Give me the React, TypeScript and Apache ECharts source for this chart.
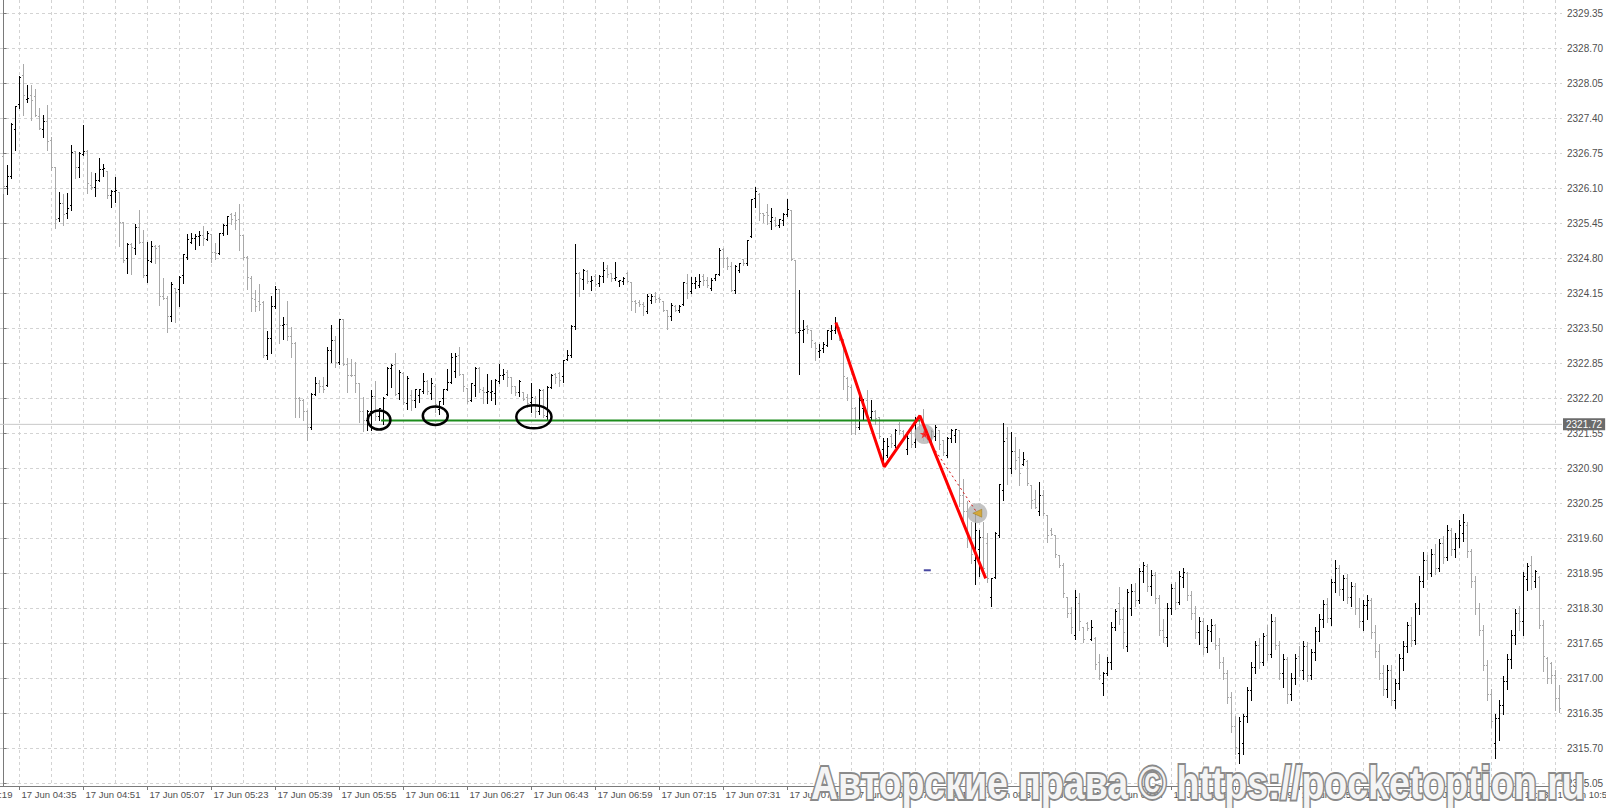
import { useEffect, useRef } from "react";
import * as echarts from "echarts";

// One-minute OHLC bars, [open, high, low, close], oldest first (bar 4 = 17 Jun 04:35)
const bars: number[][] = [
  [2326.70, 2326.75, 2326.02, 2326.13], [2326.13, 2326.53, 2325.99, 2326.33], [2326.33, 2327.32, 2326.30, 2327.28], [2327.20, 2327.63, 2326.81, 2327.62], [2327.66, 2328.19, 2327.60, 2328.17],
  [2328.20, 2328.41, 2327.46, 2327.83], [2327.76, 2328.02, 2327.71, 2327.78], [2327.83, 2328.03, 2327.38, 2327.73], [2327.80, 2327.94, 2327.45, 2327.46], [2327.44, 2327.60, 2327.20, 2327.21],
  [2327.20, 2327.46, 2327.05, 2327.35], [2327.34, 2327.65, 2326.81, 2326.98], [2327.00, 2327.06, 2326.45, 2326.49], [2326.49, 2326.50, 2325.36, 2325.52], [2325.54, 2326.03, 2325.50, 2325.83],
  [2325.82, 2326.00, 2325.42, 2325.62], [2325.63, 2326.01, 2325.56, 2325.73], [2325.78, 2326.90, 2325.71, 2326.77], [2326.78, 2326.79, 2326.30, 2326.49], [2326.49, 2326.78, 2326.32, 2326.75],
  [2326.73, 2327.28, 2326.72, 2326.78], [2326.79, 2326.81, 2326.02, 2326.19], [2326.16, 2326.41, 2326.10, 2326.12], [2326.12, 2326.38, 2325.96, 2326.25], [2326.25, 2326.67, 2326.24, 2326.46],
  [2326.45, 2326.56, 2326.33, 2326.47], [2326.42, 2326.43, 2325.92, 2325.97], [2325.97, 2326.07, 2325.76, 2326.05], [2326.05, 2326.31, 2325.85, 2326.07], [2326.03, 2326.04, 2325.04, 2325.46],
  [2325.46, 2325.47, 2324.74, 2324.76], [2324.80, 2325.08, 2324.53, 2325.06], [2325.06, 2325.08, 2324.51, 2325.00], [2324.99, 2325.45, 2324.89, 2325.38], [2325.38, 2325.71, 2325.08, 2325.09],
  [2325.09, 2325.33, 2324.46, 2324.48], [2324.48, 2325.11, 2324.37, 2324.76], [2324.75, 2325.12, 2324.74, 2325.03], [2325.02, 2325.05, 2324.72, 2324.99], [2325.03, 2325.05, 2323.93, 2324.09],
  [2324.09, 2324.43, 2324.04, 2324.06], [2324.06, 2324.10, 2323.44, 2323.72], [2323.72, 2324.37, 2323.64, 2324.32], [2324.25, 2324.26, 2323.62, 2324.17], [2324.22, 2324.47, 2323.91, 2324.45],
  [2324.49, 2324.88, 2324.35, 2324.87], [2324.81, 2325.26, 2324.79, 2325.15], [2325.09, 2325.27, 2325.08, 2325.17], [2325.17, 2325.26, 2324.98, 2325.20], [2325.20, 2325.32, 2325.06, 2325.22],
  [2325.22, 2325.40, 2325.05, 2325.17], [2325.15, 2325.32, 2325.14, 2325.27], [2325.25, 2325.26, 2324.74, 2324.91], [2324.91, 2325.09, 2324.80, 2324.90], [2324.90, 2325.27, 2324.88, 2325.26],
  [2325.26, 2325.45, 2325.24, 2325.42], [2325.42, 2325.59, 2325.25, 2325.58], [2325.62, 2325.64, 2325.45, 2325.53], [2325.60, 2325.67, 2325.34, 2325.50], [2325.52, 2325.81, 2324.95, 2325.22],
  [2325.23, 2325.24, 2324.80, 2324.82], [2324.82, 2324.84, 2324.24, 2324.44], [2324.43, 2324.47, 2323.83, 2324.05], [2324.03, 2324.21, 2323.83, 2323.90], [2324.00, 2324.33, 2323.84, 2323.95],
  [2323.98, 2324.01, 2322.97, 2323.00], [2323.00, 2323.45, 2322.94, 2323.31], [2323.31, 2324.10, 2323.05, 2323.90], [2323.90, 2324.29, 2323.88, 2324.22], [2324.22, 2324.23, 2323.23, 2323.56],
  [2323.55, 2323.72, 2323.30, 2323.57], [2323.57, 2324.01, 2323.28, 2323.35], [2323.35, 2323.53, 2322.97, 2323.23], [2323.23, 2323.25, 2321.86, 2322.20], [2322.20, 2322.23, 2321.86, 2322.17],
  [2322.17, 2322.20, 2321.80, 2321.95], [2321.95, 2321.98, 2321.43, 2321.66], [2321.66, 2322.30, 2321.64, 2322.28], [2322.28, 2322.60, 2322.27, 2322.48], [2322.48, 2322.55, 2322.32, 2322.42],
  [2322.42, 2322.60, 2322.32, 2322.36], [2322.45, 2323.15, 2322.43, 2323.10], [2323.10, 2323.57, 2322.88, 2323.28], [2323.28, 2323.36, 2322.79, 2322.86], [2322.86, 2323.67, 2322.84, 2323.66],
  [2323.66, 2323.67, 2322.82, 2322.84], [2322.84, 2322.95, 2322.32, 2322.63], [2322.63, 2322.94, 2322.61, 2322.62], [2322.63, 2322.88, 2322.32, 2322.48], [2322.48, 2322.49, 2321.77, 2321.95],
  [2321.95, 2322.23, 2321.60, 2321.80], [2321.80, 2321.98, 2321.61, 2321.96], [2321.96, 2322.36, 2321.62, 2322.23], [2322.23, 2322.52, 2321.80, 2321.86], [2321.86, 2322.03, 2321.80, 2322.01],
  [2321.80, 2322.23, 2321.73, 2322.20], [2322.28, 2322.79, 2322.26, 2322.76], [2322.76, 2322.85, 2322.42, 2322.82], [2322.84, 2323.04, 2322.26, 2322.28], [2322.29, 2322.73, 2322.20, 2322.69],
  [2322.67, 2322.69, 2322.09, 2322.12], [2322.11, 2322.61, 2322.01, 2322.57], [2322.25, 2322.35, 2321.98, 2322.17], [2322.17, 2322.37, 2322.05, 2322.36], [2322.25, 2322.38, 2322.13, 2322.37],
  [2322.33, 2322.68, 2322.30, 2322.51], [2322.51, 2322.54, 2322.28, 2322.33], [2322.30, 2322.59, 2322.20, 2322.48], [2322.42, 2322.47, 2321.95, 2322.08], [2321.99, 2322.16, 2321.91, 2322.14],
  [2322.20, 2322.38, 2322.10, 2322.36], [2322.36, 2322.75, 2322.35, 2322.49], [2322.50, 2323.05, 2322.49, 2322.97], [2322.70, 2323.04, 2322.60, 2322.98], [2322.99, 2323.16, 2322.63, 2322.64],
  [2322.64, 2322.65, 2322.34, 2322.42], [2322.38, 2322.39, 2322.12, 2322.15], [2322.17, 2322.49, 2322.16, 2322.47], [2322.45, 2322.79, 2322.24, 2322.76], [2322.76, 2322.79, 2322.32, 2322.36],
  [2322.35, 2322.42, 2322.11, 2322.31], [2322.31, 2322.66, 2322.11, 2322.33], [2322.31, 2322.55, 2322.18, 2322.33], [2322.30, 2322.57, 2322.10, 2322.54], [2322.51, 2322.85, 2322.49, 2322.63],
  [2322.63, 2322.74, 2322.57, 2322.65], [2322.69, 2322.73, 2322.43, 2322.59], [2322.59, 2322.60, 2322.30, 2322.42], [2322.42, 2322.43, 2322.26, 2322.31], [2322.31, 2322.54, 2322.24, 2322.51],
  [2322.31, 2322.32, 2322.17, 2322.18], [2322.21, 2322.29, 2322.04, 2322.11], [2322.12, 2322.49, 2321.95, 2322.22], [2322.20, 2322.24, 2321.85, 2321.95], [2321.95, 2322.37, 2321.92, 2322.35],
  [2322.34, 2322.37, 2321.86, 2321.89], [2321.86, 2322.43, 2321.81, 2322.41], [2322.41, 2322.65, 2322.40, 2322.62], [2322.65, 2322.67, 2322.49, 2322.59], [2322.66, 2322.69, 2322.43, 2322.53],
  [2322.60, 2322.92, 2322.51, 2322.91], [2322.93, 2323.10, 2322.92, 2322.99], [2322.99, 2323.56, 2322.97, 2323.53], [2323.53, 2325.07, 2323.50, 2324.53], [2324.53, 2324.55, 2324.10, 2324.43],
  [2324.41, 2324.61, 2324.24, 2324.58], [2324.56, 2324.58, 2324.34, 2324.37], [2324.37, 2324.47, 2324.22, 2324.39], [2324.47, 2324.52, 2324.29, 2324.32], [2324.33, 2324.49, 2324.29, 2324.47],
  [2324.46, 2324.74, 2324.37, 2324.58], [2324.61, 2324.68, 2324.46, 2324.51], [2324.52, 2324.53, 2324.39, 2324.43], [2324.42, 2324.74, 2324.40, 2324.44], [2324.37, 2324.41, 2324.29, 2324.40],
  [2324.37, 2324.45, 2324.32, 2324.43], [2324.52, 2324.55, 2324.37, 2324.38], [2324.35, 2324.37, 2323.85, 2324.00], [2324.00, 2324.03, 2323.81, 2323.96], [2323.98, 2324.03, 2323.92, 2323.94],
  [2323.94, 2324.00, 2323.75, 2323.91], [2323.81, 2324.14, 2323.79, 2324.10], [2324.02, 2324.14, 2323.98, 2324.10], [2324.10, 2324.18, 2323.99, 2324.03], [2324.06, 2324.08, 2324.00, 2324.03],
  [2324.00, 2324.01, 2323.83, 2323.84], [2323.84, 2323.85, 2323.50, 2323.72], [2323.72, 2323.98, 2323.66, 2323.92], [2323.91, 2323.93, 2323.83, 2323.84], [2323.83, 2323.93, 2323.81, 2323.90],
  [2323.95, 2324.37, 2323.93, 2324.35], [2324.34, 2324.51, 2324.06, 2324.15], [2324.18, 2324.46, 2324.16, 2324.34], [2324.33, 2324.46, 2324.26, 2324.37], [2324.30, 2324.51, 2324.27, 2324.37],
  [2324.47, 2324.51, 2324.30, 2324.40], [2324.40, 2324.46, 2324.27, 2324.30], [2324.24, 2324.43, 2324.21, 2324.40], [2324.43, 2324.52, 2324.40, 2324.51], [2324.51, 2324.99, 2324.49, 2324.95],
  [2324.97, 2324.99, 2324.64, 2324.80], [2324.80, 2324.82, 2324.60, 2324.65], [2324.65, 2324.74, 2324.20, 2324.21], [2324.21, 2324.68, 2324.16, 2324.65], [2324.58, 2324.72, 2324.55, 2324.71],
  [2324.78, 2324.80, 2324.68, 2324.71], [2324.70, 2325.15, 2324.68, 2325.14], [2325.21, 2325.91, 2325.20, 2325.90], [2325.91, 2326.12, 2325.76, 2326.04], [2325.99, 2326.02, 2325.52, 2325.64],
  [2325.64, 2325.65, 2325.48, 2325.60], [2325.65, 2325.82, 2325.45, 2325.60], [2325.48, 2325.73, 2325.34, 2325.57], [2325.51, 2325.57, 2325.40, 2325.42], [2325.42, 2325.54, 2325.38, 2325.52],
  [2325.51, 2325.65, 2325.42, 2325.62], [2325.61, 2325.90, 2325.59, 2325.71], [2325.70, 2325.71, 2324.77, 2324.78], [2324.77, 2324.78, 2323.41, 2323.42], [2323.42, 2324.22, 2322.65, 2323.47],
  [2323.46, 2323.65, 2323.25, 2323.48], [2323.53, 2323.56, 2323.41, 2323.48], [2323.47, 2323.48, 2323.16, 2323.27], [2323.23, 2323.25, 2322.92, 2323.13], [2323.07, 2323.22, 2322.97, 2323.09],
  [2323.13, 2323.25, 2323.07, 2323.21], [2323.19, 2323.48, 2323.17, 2323.47], [2323.44, 2323.56, 2323.31, 2323.47], [2323.47, 2323.72, 2323.41, 2323.56], [2323.50, 2323.53, 2323.28, 2323.31],
  [2323.29, 2323.30, 2322.38, 2322.60], [2322.57, 2322.60, 2322.17, 2322.42], [2322.41, 2322.45, 2321.55, 2322.01], [2322.01, 2322.04, 2321.55, 2321.67], [2321.67, 2322.29, 2321.64, 2322.17],
  [2322.01, 2322.20, 2321.82, 2322.04], [2322.17, 2322.35, 2321.80, 2321.85], [2321.85, 2322.17, 2321.81, 2321.96], [2321.96, 2321.98, 2321.73, 2321.82], [2321.85, 2321.86, 2321.47, 2321.50],
  [2321.25, 2321.46, 2321.05, 2321.40], [2321.15, 2321.46, 2321.12, 2321.30], [2321.50, 2321.55, 2321.30, 2321.36], [2321.33, 2321.64, 2321.30, 2321.60], [2321.72, 2321.77, 2321.55, 2321.60],
  [2321.58, 2321.61, 2321.43, 2321.48], [2321.25, 2321.55, 2321.17, 2321.45], [2321.55, 2321.64, 2321.30, 2321.35], [2321.38, 2321.86, 2321.30, 2321.75], [2321.82, 2321.89, 2321.64, 2321.70],
  [2321.75, 2322.01, 2321.43, 2321.55], [2321.60, 2321.64, 2321.40, 2321.45], [2321.42, 2321.61, 2321.36, 2321.58], [2321.50, 2321.70, 2321.43, 2321.66], [2321.60, 2321.61, 2321.27, 2321.35],
  [2321.42, 2321.43, 2321.15, 2321.20], [2321.15, 2321.49, 2321.12, 2321.45], [2321.45, 2321.64, 2321.40, 2321.60], [2321.52, 2321.64, 2321.40, 2321.62], [2321.60, 2321.62, 2320.20, 2320.40],
  [2320.40, 2320.70, 2319.95, 2320.10], [2320.10, 2320.30, 2319.45, 2319.60], [2319.60, 2319.90, 2319.15, 2319.30], [2319.20, 2320.05, 2318.75, 2319.75], [2319.40, 2319.75, 2318.90, 2319.62],
  [2319.62, 2319.90, 2318.95, 2319.05], [2319.50, 2319.70, 2318.80, 2318.85], [2318.50, 2318.86, 2318.35, 2318.85], [2318.88, 2319.72, 2318.86, 2319.69], [2319.66, 2320.62, 2319.63, 2320.60],
  [2320.50, 2321.75, 2320.32, 2321.41], [2321.45, 2321.67, 2320.62, 2320.90], [2320.90, 2321.58, 2320.81, 2321.21], [2321.21, 2321.49, 2320.90, 2321.05], [2321.10, 2321.27, 2320.59, 2320.80],
  [2320.98, 2321.21, 2320.96, 2321.06], [2321.03, 2321.05, 2320.59, 2320.62], [2320.59, 2320.60, 2320.16, 2320.30], [2320.32, 2320.50, 2320.16, 2320.18], [2320.10, 2320.65, 2320.03, 2320.40],
  [2320.40, 2320.50, 2320.03, 2320.06], [2320.03, 2320.04, 2319.54, 2319.65], [2319.75, 2319.79, 2319.66, 2319.68], [2319.65, 2319.66, 2319.26, 2319.30], [2319.28, 2319.29, 2319.07, 2319.10],
  [2319.10, 2319.14, 2318.52, 2318.58], [2318.50, 2318.52, 2318.15, 2318.20], [2318.20, 2318.33, 2317.84, 2317.95], [2317.80, 2318.64, 2317.74, 2318.50], [2318.40, 2318.58, 2317.90, 2318.05],
  [2317.95, 2317.96, 2317.68, 2317.72], [2318.02, 2318.05, 2317.90, 2317.93], [2317.73, 2318.08, 2317.71, 2317.95], [2317.74, 2317.77, 2317.18, 2317.26], [2317.30, 2317.46, 2317.00, 2317.05],
  [2316.90, 2317.12, 2316.69, 2317.10], [2317.10, 2317.40, 2317.06, 2317.30], [2317.30, 2318.05, 2317.18, 2317.95], [2317.95, 2318.30, 2317.90, 2318.25], [2318.40, 2318.70, 2318.02, 2318.10],
  [2318.10, 2318.33, 2317.56, 2317.85], [2317.60, 2318.67, 2317.52, 2318.60], [2318.30, 2318.75, 2318.18, 2318.62], [2318.62, 2318.78, 2318.35, 2318.45], [2318.45, 2319.05, 2318.40, 2318.98],
  [2318.98, 2319.17, 2318.80, 2319.10], [2319.08, 2319.12, 2318.62, 2318.70], [2318.70, 2319.02, 2318.55, 2318.92], [2318.92, 2318.98, 2318.40, 2318.48], [2318.48, 2318.55, 2317.80, 2317.90],
  [2317.90, 2318.10, 2317.68, 2317.76], [2317.76, 2318.40, 2317.60, 2318.30], [2318.30, 2318.75, 2318.20, 2318.68], [2318.68, 2318.80, 2318.30, 2318.42], [2318.42, 2319.00, 2318.38, 2318.90],
  [2318.88, 2319.05, 2318.70, 2318.96], [2318.95, 2318.98, 2318.45, 2318.55], [2318.55, 2318.62, 2318.10, 2318.20], [2318.20, 2318.35, 2317.75, 2317.85], [2317.85, 2318.15, 2317.65, 2318.05],
  [2318.05, 2318.12, 2317.45, 2317.58], [2317.58, 2318.00, 2317.50, 2317.90], [2317.88, 2318.10, 2317.70, 2317.98], [2317.98, 2318.02, 2317.55, 2317.62], [2317.62, 2317.75, 2317.20, 2317.30],
  [2317.30, 2317.40, 2317.00, 2317.10], [2317.10, 2317.15, 2316.55, 2316.65], [2316.65, 2316.75, 2316.00, 2316.10], [2316.10, 2316.30, 2315.60, 2315.72], [2315.60, 2316.28, 2315.43, 2316.20],
  [2315.80, 2316.35, 2315.60, 2316.30], [2316.30, 2316.85, 2316.20, 2316.78], [2316.78, 2317.30, 2316.60, 2317.20], [2317.20, 2317.70, 2317.10, 2317.62], [2317.62, 2317.75, 2317.20, 2317.30],
  [2317.30, 2317.85, 2317.25, 2317.78], [2317.80, 2318.00, 2317.35, 2317.45], [2317.45, 2318.20, 2317.40, 2318.05], [2318.05, 2318.15, 2317.55, 2317.62], [2317.62, 2317.70, 2317.00, 2317.10],
  [2317.10, 2317.45, 2316.85, 2317.35], [2317.35, 2317.40, 2316.55, 2316.70], [2316.70, 2317.10, 2316.60, 2317.00], [2317.00, 2317.45, 2316.90, 2317.38], [2317.40, 2317.60, 2317.05, 2317.15],
  [2317.15, 2317.70, 2317.00, 2317.60], [2317.60, 2317.68, 2316.95, 2317.05], [2317.05, 2317.55, 2317.00, 2317.48], [2317.48, 2317.95, 2317.35, 2317.88], [2317.88, 2318.20, 2317.70, 2318.10],
  [2318.10, 2318.45, 2317.95, 2318.38], [2318.38, 2318.50, 2318.05, 2318.12], [2318.12, 2318.85, 2318.00, 2318.78], [2318.78, 2319.20, 2318.60, 2319.05], [2319.05, 2319.10, 2318.55, 2318.65],
  [2318.65, 2318.92, 2318.45, 2318.85], [2318.85, 2318.95, 2318.40, 2318.50], [2318.50, 2318.80, 2318.35, 2318.70], [2318.70, 2318.78, 2318.20, 2318.30], [2318.30, 2318.50, 2317.95, 2318.05],
  [2318.05, 2318.45, 2317.90, 2318.35], [2318.35, 2318.55, 2318.10, 2318.45], [2318.45, 2318.50, 2317.75, 2317.85], [2317.85, 2318.00, 2317.40, 2317.50], [2317.50, 2317.65, 2317.00, 2317.10],
  [2317.10, 2317.25, 2316.70, 2316.80], [2316.80, 2317.25, 2316.65, 2317.15], [2317.15, 2317.25, 2316.50, 2316.60], [2316.60, 2317.00, 2316.45, 2316.90], [2316.90, 2317.45, 2316.80, 2317.38],
  [2317.38, 2317.70, 2317.15, 2317.60], [2317.60, 2318.05, 2317.50, 2317.98], [2317.98, 2318.15, 2317.60, 2317.70], [2317.70, 2318.40, 2317.65, 2318.30], [2318.30, 2318.90, 2318.20, 2318.80],
  [2318.80, 2319.35, 2318.70, 2319.20], [2319.20, 2319.30, 2318.85, 2318.95], [2318.95, 2319.40, 2318.90, 2319.30], [2319.30, 2319.50, 2318.95, 2319.05], [2319.05, 2319.60, 2319.00, 2319.50],
  [2319.50, 2319.65, 2319.15, 2319.25], [2319.25, 2319.86, 2319.20, 2319.75], [2319.75, 2319.80, 2319.30, 2319.40], [2319.40, 2319.70, 2319.25, 2319.60], [2319.60, 2319.95, 2319.45, 2319.85],
  [2319.70, 2320.05, 2319.55, 2319.90], [2319.85, 2319.90, 2319.25, 2319.35], [2319.35, 2319.40, 2318.70, 2318.80], [2318.80, 2318.90, 2318.20, 2318.30], [2318.30, 2318.40, 2317.80, 2317.90],
  [2317.90, 2318.00, 2317.15, 2317.25], [2317.25, 2317.35, 2316.60, 2316.70], [2316.70, 2316.80, 2316.10, 2316.20], [2315.80, 2316.35, 2315.52, 2316.25], [2316.25, 2316.60, 2315.85, 2316.50],
  [2316.50, 2317.05, 2316.35, 2316.95], [2316.95, 2317.45, 2316.80, 2317.35], [2317.35, 2317.90, 2317.20, 2317.80], [2317.80, 2318.30, 2317.65, 2318.20], [2318.20, 2318.35, 2317.90, 2318.05],
  [2318.05, 2318.98, 2317.80, 2318.90], [2318.83, 2319.14, 2318.64, 2319.08], [2319.10, 2319.27, 2318.67, 2318.90], [2318.80, 2319.01, 2318.70, 2318.98], [2318.88, 2318.90, 2317.93, 2317.98],
  [2317.98, 2318.08, 2317.14, 2317.40], [2317.38, 2317.40, 2316.91, 2317.00], [2317.28, 2317.31, 2316.91, 2317.05], [2317.05, 2317.15, 2316.41, 2316.62], [2316.62, 2316.88, 2316.38, 2316.45],
];

// Price scale labels (right axis)
const priceTicks = [
  2315.05, 2315.7, 2316.35, 2317.0, 2317.65, 2318.3, 2318.95, 2319.6, 2320.25, 2320.9, 2321.55, 2322.2,
  2322.85, 2323.5, 2324.15, 2324.8, 2325.45, 2326.1, 2326.75, 2327.4, 2328.05, 2328.7, 2329.35,
];

// Time scale: bar index of each label and its text
const timeTickBars = [-12, 4, 20, 36, 52, 68, 84, 100, 116, 132, 148, 164, 180, 196, 212, 228, 244, 260, 276, 292, 308, 324, 340, 356, 372, 388];
const timeTickLabels = [
  "17 Jun 04:19", "17 Jun 04:35", "17 Jun 04:51", "17 Jun 05:07", "17 Jun 05:23", "17 Jun 05:39", "17 Jun 05:55",
  "17 Jun 06:11", "17 Jun 06:27", "17 Jun 06:43", "17 Jun 06:59", "17 Jun 07:15", "17 Jun 07:31", "17 Jun 07:47",
  "17 Jun 08:03", "17 Jun 08:19", "17 Jun 08:35", "17 Jun 08:51", "17 Jun 09:07", "17 Jun 09:23", "17 Jun 09:39",
  "17 Jun 09:55", "17 Jun 10:11", "17 Jun 10:27", "17 Jun 10:43", "17 Jun 10:59",
];
// Vertical grid every 8 bars
const gridBars = [
  4, 12, 20, 28, 36, 44, 52, 60, 68, 76, 84, 92, 100, 108, 116, 124, 132, 140, 148, 156, 164, 172, 180, 188, 196,
  204, 212, 220, 228, 236, 244, 252, 260, 268, 276, 284, 292, 300, 308, 316, 324, 332, 340, 348, 356, 364, 372, 380, 388,
];

const lastPrice = 2321.72;

// Drawn objects, as [bar index, price]
const supportLevel = [[94.4, 2321.79], [229.1, 2321.79]];
const zigzag = [[208.1, 2323.61], [220.2, 2320.93], [229.1, 2321.88], [245.55, 2318.86]];
const touchRings = [[93.9, 2321.8], [107.95, 2321.88], [132.6, 2321.86]];
const tradeOpen = [230.2, 2321.54];
const tradeClose = [243.45, 2320.07];
const pendingOrder = [230.95, 2319.01];

// Layout
const W = 1606;
const H = 808;
const GRID = { left: 0, right: 44, top: 0, bottom: 22 };
const PX_PER_BAR = 4;
const X_MIN = -0.875;
const X_MAX = X_MIN + (W - GRID.left - GRID.right) / PX_PER_BAR;
const PRICE_STEP = 0.65;
const PX_PER_STEP = 35;
const Y_MAX = priceTicks[priceTicks.length - 1] + (13.5 * PRICE_STEP) / PX_PER_STEP;
const Y_MIN = Y_MAX - ((H - GRID.top - GRID.bottom) * PRICE_STEP) / PX_PER_STEP;
const ringRadii = [[11.3, 9.5], [12.5, 9.3], [17.6, 11.5]];

const FONT = '"Liberation Sans", Arial, sans-serif';
const AXIS_COLOR = "#7a7a7a";
const LABEL_COLOR = "#505050";
const GRID_COLOR = "#d3d3d3";
const BULL = "#000000";
const BEAR = "#a9a9a9";

const STAR = "path://M50,0 L61,35 L98,35 L68,57 L79,91 L50,70 L21,91 L32,57 L2,35 L39,35 Z";

export default function App() {
  const ref = useRef<HTMLDivElement>(null);

  useEffect(() => {
    document.body.style.margin = "0";
    document.body.style.overflow = "hidden";
    const chart = echarts.init(ref.current!, undefined, { renderer: "svg" });

    const inRangeTimeBars = timeTickBars.filter((b) => b >= X_MIN && b <= X_MAX);
    const timeLabel = (v: number) => {
      const k = timeTickBars.indexOf(Math.round(v));
      return k >= 0 ? timeTickLabels[k] : "";
    };

    chart.setOption({
      animation: false,
      backgroundColor: "#ffffff",
      grid: { ...GRID, containLabel: false, outerBoundsMode: "none" },
      xAxis: {
        type: "value",
        min: X_MIN,
        max: X_MAX,
        axisLine: { show: true, onZero: false, lineStyle: { color: AXIS_COLOR, width: 1 } },
        axisTick: { show: true, customValues: inRangeTimeBars, length: 4, lineStyle: { color: AXIS_COLOR } },
        axisLabel: {
          show: true,
          customValues: inRangeTimeBars,
          formatter: (v: number) => timeLabel(v),
          align: "left",
          margin: 3,
          padding: [0, 0, 0, 2],
          fontFamily: FONT,
          fontSize: 9.5,
          color: LABEL_COLOR,
        },
        splitLine: { show: false },
      },
      yAxis: {
        type: "value",
        position: "right",
        min: Y_MIN,
        max: Y_MAX,
        axisLine: { show: true, lineStyle: { color: AXIS_COLOR, width: 1 } },
        axisTick: { show: true, customValues: priceTicks, length: 3, lineStyle: { color: AXIS_COLOR } },
        axisLabel: {
          show: true,
          customValues: priceTicks,
          formatter: (v: number) => v.toFixed(2),
          margin: 5,
          fontFamily: FONT,
          fontSize: 10,
          color: LABEL_COLOR,
        },
        splitLine: { show: false },
      },
      series: [
        {
          // horizontal dotted grid
          type: "custom",
          silent: true,
          z: 0,
          data: priceTicks.map((v) => [X_MIN, v]),
          encode: { x: 0, y: 1 },
          renderItem: (params: any, api: any) => {
            const cs = params.coordSys;
            const y = Math.floor(api.coord([X_MIN, api.value(1)])[1]) + 0.5;
            return {
              type: "line",
              shape: { x1: cs.x, y1: y, x2: cs.x + cs.width, y2: y },
              style: { stroke: GRID_COLOR, lineWidth: 1, lineDash: [3, 3] },
            };
          },
        },
        {
          // vertical dotted grid
          type: "custom",
          silent: true,
          z: 0,
          data: gridBars.map((b) => [b, priceTicks[0]]),
          encode: { x: 0, y: 1 },
          renderItem: (params: any, api: any) => {
            const cs = params.coordSys;
            const x = Math.floor(api.coord([api.value(0), priceTicks[0]])[0]) + 0.5;
            return {
              type: "line",
              shape: { x1: x, y1: cs.y, x2: x, y2: cs.y + cs.height },
              style: { stroke: GRID_COLOR, lineWidth: 1, lineDash: [3, 3] },
            };
          },
        },
        {
          // bid line with price tag
          type: "line",
          silent: true,
          z: 1,
          data: [[X_MIN, lastPrice], [X_MAX, lastPrice]],
          symbol: "none",
          lineStyle: { color: "#c8c8c8", width: 1 },
          endLabel: {
            show: true,
            formatter: lastPrice.toFixed(2),
            distance: 1,
            backgroundColor: "#6b6b6b",
            color: "#ffffff",
            fontFamily: FONT,
            fontSize: 10,
            padding: [1, 3, 1, 3],
          },
        },
        {
          // OHLC bars
          type: "custom",
          silent: true,
          z: 2,
          data: bars.map((b, i) => [i, b[0], b[1], b[2], b[3]]),
          encode: { x: 0, y: [1, 2, 3, 4] },
          renderItem: (params: any, api: any) => {
            const i = api.value(0);
            const o = api.value(1);
            const hi = api.value(2);
            const lo = api.value(3);
            const c = api.value(4);
            const pH = api.coord([i, hi]);
            const pL = api.coord([i, lo]);
            const pO = api.coord([i, o]);
            const pC = api.coord([i, c]);
            const x = Math.floor(pH[0]) + 0.5;
            const color = c >= o ? BULL : BEAR;
            const yTop = Math.round(pH[1]);
            const yBot = Math.round(pL[1]) + 1;
            const yO = Math.floor(pO[1]) + 0.5;
            const yC = Math.floor(pC[1]) + 0.5;
            const st = { stroke: color, lineWidth: 1 };
            return {
              type: "group",
              children: [
                { type: "line", shape: { x1: x, y1: yTop, x2: x, y2: yBot }, style: st },
                { type: "line", shape: { x1: x - 1.5, y1: yO, x2: x - 0.5, y2: yO }, style: st },
                { type: "line", shape: { x1: x + 0.5, y1: yC, x2: x + 1.5, y2: yC }, style: st },
              ],
            };
          },
        },
        {
          // horizontal level
          type: "line",
          silent: true,
          z: 4,
          data: supportLevel,
          symbol: "none",
          lineStyle: { color: "#1c8c1c", width: 2 },
        },
        {
          // level touches
          type: "custom",
          silent: true,
          z: 5,
          data: touchRings,
          encode: { x: 0, y: 1 },
          renderItem: (params: any, api: any) => {
            const p = api.coord([api.value(0), api.value(1)]);
            const r = ringRadii[params.dataIndex];
            return {
              type: "ellipse",
              shape: { cx: p[0], cy: p[1], rx: r[0], ry: r[1] },
              style: { fill: "none", stroke: "#000000", lineWidth: 2.5 },
            };
          },
        },
        {
          // trade halos
          type: "scatter",
          silent: true,
          z: 5,
          data: [tradeOpen, tradeClose],
          symbol: "circle",
          symbolSize: (v: number[]) => (v === tradeOpen ? 18 : 20),
          itemStyle: { color: "#b9b9b9", opacity: 0.85 },
        },
        {
          // trade connector
          type: "line",
          silent: true,
          z: 6,
          data: [tradeOpen, tradeClose],
          symbol: "none",
          lineStyle: { color: "#d01010", width: 1, type: [2, 3] },
        },
        {
          type: "scatter",
          silent: true,
          z: 8,
          data: [tradeOpen],
          symbol: STAR,
          symbolSize: 9,
          itemStyle: { color: "#ff1010" },
        },
        {
          type: "scatter",
          silent: true,
          z: 8,
          data: [tradeClose],
          symbol: "triangle",
          symbolRotate: 90,
          symbolSize: [8, 9],
          itemStyle: { color: "#d8a21c", borderColor: "#8a6a10", borderWidth: 0.5 },
        },
        {
          type: "scatter",
          silent: true,
          z: 8,
          data: [pendingOrder],
          symbol: "rect",
          symbolSize: [7, 2],
          itemStyle: { color: "#1c1c8c" },
        },
        {
          // zigzag wave
          type: "line",
          silent: true,
          z: 7,
          data: zigzag,
          symbol: "none",
          lineStyle: { color: "#ff0000", width: 3 },
        },
      ],
    });

    // first (partly hidden) time label sits left of the visible range
    const x0 = chart.convertToPixel({ xAxisIndex: 0 }, timeTickBars[0]) as number;
    chart.setOption({
      graphic: [
        {
          type: "text",
          silent: true,
          x: x0 + 2,
          y: H - GRID.bottom + 3,
          style: {
            text: timeTickLabels[0],
            font: `9.5px ${FONT}`,
            fill: LABEL_COLOR,
            textAlign: "left",
            textVerticalAlign: "top",
          },
        },
        {
          type: "text",
          silent: true,
          z: 100,
          x: 811,
          y: 783,
          scaleY: 1.25,
          style: {
            text: "Авторские права © https://pocketoption.ru",
            font: `bold 37.5px ${FONT}`,
            fill: "#f4f4f4",
            stroke: "#8a8a8a",
            lineWidth: 3,
            textAlign: "left",
            textVerticalAlign: "middle",
          },
        },
      ],
    });

    return () => chart.dispose();
  }, []);

  return <div ref={ref} style={{ width: W, height: H }} />;
}
